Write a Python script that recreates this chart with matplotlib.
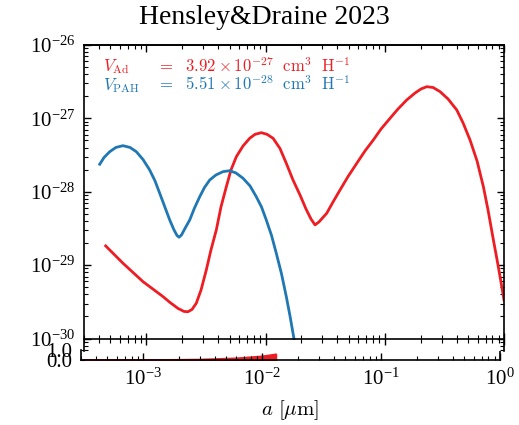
import matplotlib
matplotlib.use("Agg")
import matplotlib.pyplot as plt
import numpy as np

plt.rcParams['font.family'] = 'serif'
plt.rcParams['font.serif'] = ['Liberation Serif', 'DejaVu Serif']
plt.rcParams['mathtext.fontset'] = 'cm'

# log10 of grain radius [um] and of volume per H [cm^3 H^-1]
log_a_ad = [-3.341, -3.196, -3.028, -2.860, -2.802, -2.734, -2.684, -2.651,
            -2.617, -2.581, -2.541, -2.497, -2.458, -2.413, -2.374, -2.329,
            -2.290, -2.245, -2.189, -2.133, -2.088, -2.036, -1.988, -1.937,
            -1.879, -1.826, -1.770, -1.711, -1.661, -1.619, -1.585, -1.552,
            -1.487, -1.434, -1.375, -1.308, -1.235, -1.166, -1.096, -1.031,
            -0.956, -0.889, -0.816, -0.746, -0.696, -0.648, -0.595, -0.536,
            -0.469, -0.396, -0.343, -0.285, -0.226, -0.173, -0.134, -0.089,
            -0.058, -0.033, 0.0]
log_v_ad = [-28.738, -28.974, -29.225, -29.429, -29.508, -29.590, -29.631,
            -29.635, -29.604, -29.519, -29.338, -29.065, -28.793, -28.520,
            -28.207, -27.931, -27.703, -27.522, -27.376, -27.271, -27.217,
            -27.195, -27.217, -27.271, -27.410, -27.612, -27.839, -28.044,
            -28.234, -28.371, -28.452, -28.411, -28.293, -28.139, -27.975,
            -27.792, -27.612, -27.444, -27.294, -27.144, -26.999, -26.872,
            -26.749, -26.654, -26.599, -26.568, -26.579, -26.636, -26.736,
            -26.886, -27.063, -27.294, -27.580, -27.931, -28.248, -28.657,
            -28.929, -29.157, -29.474]

log_a_pah = [-3.391, -3.355, -3.307, -3.255, -3.196, -3.137, -3.084, -3.028,
             -2.972, -2.927, -2.888, -2.848, -2.804, -2.768, -2.743, -2.726,
             -2.705, -2.676, -2.636, -2.596, -2.552, -2.512, -2.468, -2.416,
             -2.357, -2.301, -2.248, -2.189, -2.130, -2.078, -2.034, -1.994,
             -1.950, -1.910, -1.866, -1.826, -1.795, -1.762]
log_v_pah = [-27.625, -27.533, -27.454, -27.396, -27.372, -27.396, -27.454,
             -27.560, -27.703, -27.853, -28.020, -28.193, -28.384, -28.520,
             -28.595, -28.620, -28.589, -28.500, -28.384, -28.221, -28.067,
             -27.941, -27.839, -27.771, -27.726, -27.713, -27.744, -27.816,
             -27.921, -28.067, -28.207, -28.384, -28.595, -28.838, -29.120,
             -29.429, -29.692, -30.0]

# lower strip
a_frac = [3.1e-4, 1e-3, 3e-3, 6e-3, 1e-2, 1.3e-2]
frac = [0.0, 0.02, 0.08, 0.2, 0.4, 0.6]

V_AD_TOT = r'3.92\times10^{-27}'
V_PAH_TOT = r'5.51\times10^{-28}'

red = '#ee1d23'
blue = '#1f77b4'

W, H = 519, 425
fig = plt.figure(figsize=(W / 100, H / 100), dpi=100)

ax2 = fig.add_axes([81 / W, 1 - 360 / H, 419 / W, 10 / H], zorder=1)
ax = fig.add_axes([84 / W, 1 - 351 / H, 420 / W, 306 / H], zorder=2)

ax.plot(10 ** np.array(log_a_ad), 10 ** np.array(log_v_ad), color=red,
        lw=2.0, solid_joinstyle='round')
ax.plot(10 ** np.array(log_a_pah), 10 ** np.array(log_v_pah), color=blue,
        lw=2.0, solid_joinstyle='round')
ax.set_xscale('log')
ax.set_yscale('log')
ax.set_xlim(3e-4, 1)
ax.set_ylim(6.76e-31, 1e-26)

ax.spines['bottom'].set_position(('data', 1e-30))
for sp in ax.spines.values():
    sp.set_linewidth(1.2)
ax.tick_params(axis='y', which='both', direction='in', left=True, right=True,
               labelsize=15, pad=6)
ax.tick_params(axis='y', which='major', length=5, width=1)
ax.tick_params(axis='y', which='minor', length=3, width=0.8)
ax.tick_params(axis='x', which='both', direction='inout', bottom=True,
               top=False, labelbottom=False)
ax.tick_params(axis='x', which='major', length=9, width=1)
ax.tick_params(axis='x', which='minor', length=6, width=0.8)

top = ax.secondary_xaxis('top')
top.tick_params(which='both', direction='in', labeltop=False)
top.tick_params(which='major', length=5, width=1)
top.tick_params(which='minor', length=3, width=0.8)
top.spines['top'].set_linewidth(1.2)

ax.text(0.045, 0.931, r'$V_{\rm Ad}$', transform=ax.transAxes, color=red,
        fontsize=12, va='center')
ax.text(0.174, 0.931, r'$=\ \ %s\ \ {\rm cm}^3\ \ {\rm H}^{-1}$' % V_AD_TOT,
        transform=ax.transAxes, color=red, fontsize=12, va='center')
ax.text(0.045, 0.869, r'$V_{\rm PAH}$', transform=ax.transAxes, color=blue,
        fontsize=12, va='center')
ax.text(0.174, 0.869, r'$=\ \ %s\ \ {\rm cm}^3\ \ {\rm H}^{-1}$' % V_PAH_TOT,
        transform=ax.transAxes, color=blue, fontsize=12, va='center')

ax2.fill_between(a_frac, 0, frac, color=red, lw=1.5)
ax2.set_xscale('log')
ax2.set_xlim(3e-4, 1)
ax2.set_ylim(0, 1)
ax2.set_yticks([0, 1])
ax2.set_yticklabels(['0.0', '1.0'])
ax2.spines['top'].set_visible(False)
for sp in ax2.spines.values():
    sp.set_linewidth(1.2)
ax2.tick_params(which='both', direction='in', labelsize=15)
ax2.tick_params(axis='x', which='major', length=5, width=1, pad=6)
ax2.tick_params(axis='x', which='minor', length=3, width=0.8)
ax2.tick_params(axis='y', length=3, pad=6)
ax2.set_xlabel(r'$a\ [\mu{\rm m}]$', fontsize=15, labelpad=6)

fig.text(0.51, 1 - 18 / H, 'Hensley&Draine 2023', ha='center', va='center',
         fontsize=20)

fig.savefig('out.png', dpi=100)
